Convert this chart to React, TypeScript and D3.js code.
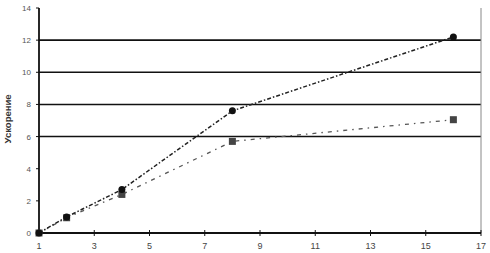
import React from 'react';
import * as d3 from 'd3';

const xValues = [1, 2, 4, 8, 16];
const seriesA = [0, 1.0, 2.7, 7.6, 12.2];
const seriesB = [0, 0.95, 2.4, 5.7, 7.05];
const xTicks = [1, 3, 5, 7, 9, 11, 13, 15, 17];
const yTicks = [0, 2, 4, 6, 8, 10, 12, 14];
const gridValues = [6, 8, 10, 12];
const yTitle = 'Ускорение';

export default function App() {
  const width = 490;
  const height = 253;
  const x = d3.scaleLinear().domain([1, 17]).range([39, 481]);
  const y = d3.scaleLinear().domain([0, 14]).range([233, 8]);

  const line = d3.line<[number, number]>()
    .x((d) => x(d[0]))
    .y((d) => y(d[1]));

  const ptsA: [number, number][] = xValues.map((v, i) => [v, seriesA[i]]);
  const ptsB: [number, number][] = xValues.map((v, i) => [v, seriesB[i]]);

  return (
    <svg width={width} height={height} style={{ position: 'absolute', left: 0, top: 0, background: '#fff' }}
      fontFamily="Liberation Sans, Arial, sans-serif">
      {/* grid */}
      {gridValues.map((g) => (
        <line key={g} x1={x(1)} x2={x(17)} y1={y(g)} y2={y(g)} stroke="#111" strokeWidth={1.6} />
      ))}
      {/* axes */}
      <line x1={x(1)} x2={x(1)} y1={y(14)} y2={y(0)} stroke="#111" strokeWidth={1.8} />
      <line x1={x(17)} x2={x(17)} y1={y(14)} y2={y(0)} stroke="#888" strokeWidth={1} />
      <line x1={x(1)} x2={x(17)} y1={y(0)} y2={y(0)} stroke="#111" strokeWidth={1.8} />
      {xTicks.map((t) => (
        <g key={t}>
          <line x1={x(t)} x2={x(t)} y1={y(0) - 3} y2={y(0) + 3} stroke="#111" strokeWidth={1} />
          <text x={x(t)} y={y(0) + 16} fontSize={9} textAnchor="middle" fill="#444">{t}</text>
        </g>
      ))}
      {yTicks.map((t) => (
        <g key={t}>
          <line x1={x(1) - 3} x2={x(1)} y1={y(t)} y2={y(t)} stroke="#111" strokeWidth={1} />
          <text x={31} y={y(t) + 3} fontSize={8} textAnchor="end" fill="#555">{t}</text>
        </g>
      ))}
      <text transform={`translate(11,${y(7.1)}) rotate(-90)`} fontSize={9.5} fontWeight="bold" textAnchor="middle" fill="#333">{yTitle}</text>

      {/* series */}
      <path d={line(ptsB) || ''} fill="none" stroke="#555" strokeWidth={1.3} strokeDasharray="4,5,1.5,5" />
      <path d={line(ptsA) || ''} fill="none" stroke="#222" strokeWidth={1.5} strokeDasharray="4,2,1.5,2" />
      {ptsB.map((d, i) => (
        <rect key={i} x={x(d[0]) - 3.5} y={y(d[1]) - 3.5} width={7} height={7} fill="#444" />
      ))}
      {ptsA.map((d, i) => (
        <circle key={i} cx={x(d[0])} cy={y(d[1])} r={3.5} fill="#111" />
      ))}
    </svg>
  );
}
